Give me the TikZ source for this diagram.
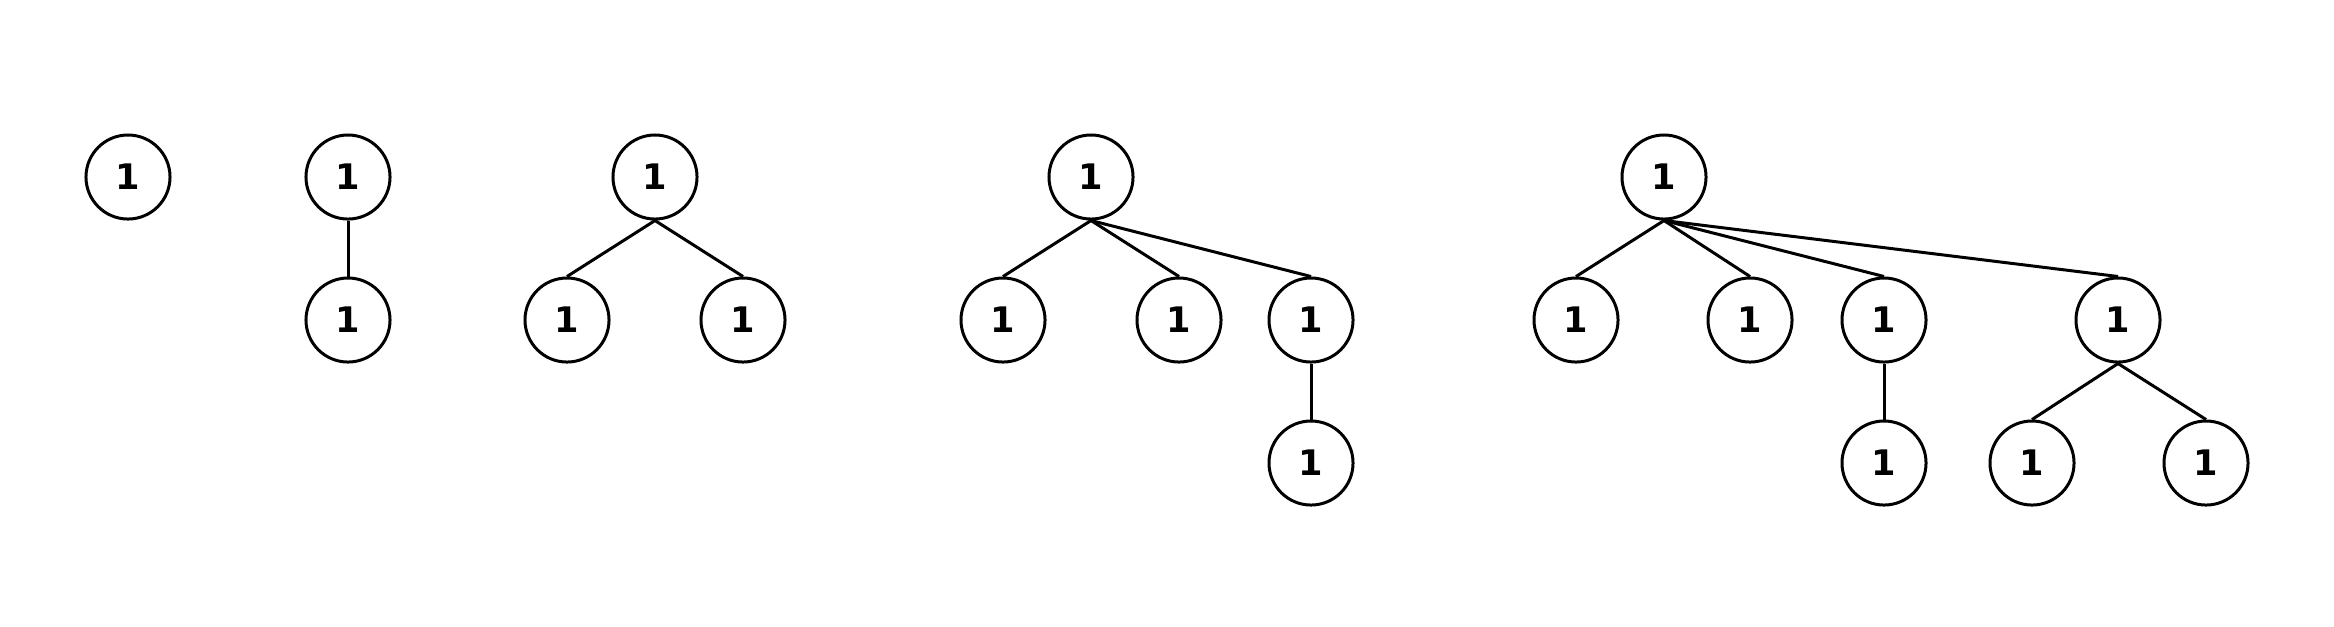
\documentclass[tikz,border=0pt]{standalone}
\usepackage{fontspec}
\setmainfont{DejaVu Sans}
\usepackage{tikz}
\usetikzlibrary{positioning}

\begin{document}
\begin{tikzpicture}[x=0.01cm,y=-0.01cm]
		\tikzset{vertex/.style={draw,circle,line width=0.85pt,minimum size=0.84cm,inner sep=0pt,font=\fontsize{10}{12}\selectfont\bfseries}}
		\tikzset{edge/.style={line width=0.85pt}}
		\useasboundingbox (0,0) rectangle (2334,626);
		% tree 1
		\node[vertex] (a1) at (128,177) {1};
		% tree 2
		\node[vertex] (b1) at (348,177) {1};
		\node[vertex] (b2) at (348,320) {1};
		% tree 3
		\node[vertex] (c1) at (655,177) {1};
		\node[vertex] (c2) at (567,320) {1};
		\node[vertex] (c3) at (743,320) {1};
		% tree 4
		\node[vertex] (d1) at (1091,177) {1};
		\node[vertex] (d2) at (1003,320) {1};
		\node[vertex] (d3) at (1179,320) {1};
		\node[vertex] (d4) at (1311,320) {1};
		\node[vertex] (d5) at (1311,463) {1};
		% tree 5
		\node[vertex] (e1) at (1664,177) {1};
		\node[vertex] (e2) at (1576,320) {1};
		\node[vertex] (e3) at (1750,320) {1};
		\node[vertex] (e4) at (1884,320) {1};
		\node[vertex] (e5) at (2118,320) {1};
		\node[vertex] (e6) at (1884,463) {1};
		\node[vertex] (e7) at (2032,463) {1};
		\node[vertex] (e8) at (2206,463) {1};
		% edges
		\draw[edge] (b1.south) -- (b2.north);
		\draw[edge] (c1.south) -- (c2.north);
		\draw[edge] (c1.south) -- (c3.north);
		\draw[edge] (d1.south) -- (d2.north);
		\draw[edge] (d1.south) -- (d3.north);
		\draw[edge] (d1.south) -- (d4.north);
		\draw[edge] (d4.south) -- (d5.north);
		\draw[edge] (e1.south) -- (e2.north);
		\draw[edge] (e1.south) -- (e3.north);
		\draw[edge] (e1.south) -- (e4.north);
		\draw[edge] (e1.south) -- (e5.north);
		\draw[edge] (e4.south) -- (e6.north);
		\draw[edge] (e5.south) -- (e7.north);
		\draw[edge] (e5.south) -- (e8.north);
\end{tikzpicture}
\end{document}
